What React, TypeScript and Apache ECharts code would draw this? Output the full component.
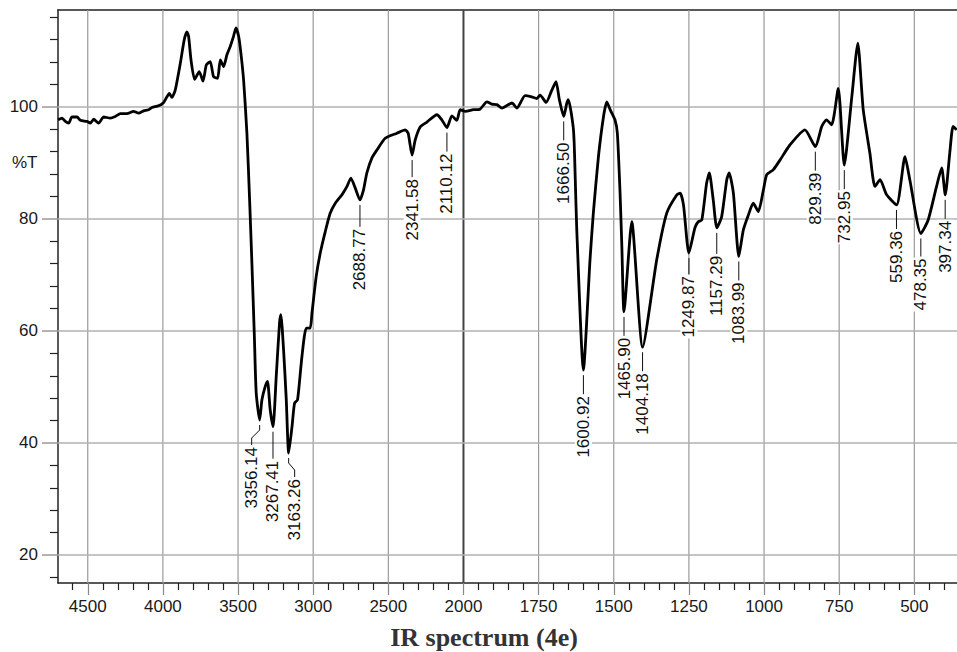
import React, { useEffect, useRef } from "react";
import * as echarts from "echarts";

// ---- spectrum (wavenumber cm-1, %T) ----
const wavenumbers = [
  4698, 4671, 4649, 4627, 4605, 4571, 4549, 4505, 4483, 4461, 4428, 4394, 4350, 4317, 4283, 4239,
  4195, 4162, 4128, 4095, 4073, 4029, 3995, 3973, 3957, 3940, 3918, 3884, 3858, 3840, 3829, 3813,
  3789, 3758, 3733, 3711, 3685, 3663, 3636, 3618, 3596, 3574, 3552, 3530, 3514, 3496, 3481, 3463,
  3441, 3423, 3407, 3392, 3379, 3356, 3341, 3319, 3304, 3286, 3267, 3246, 3224, 3215, 3197, 3179,
  3163, 3141, 3124, 3104, 3075, 3046, 3020, 3008, 2980, 2953, 2920, 2887, 2853, 2809, 2775, 2749,
  2720, 2689, 2665, 2643, 2609, 2576, 2521, 2443, 2388, 2368, 2342, 2321, 2288, 2243, 2177, 2144,
  2110, 2077, 2044, 2022, 1994, 1967, 1945, 1922, 1906, 1889, 1872, 1839, 1822, 1795, 1773, 1756,
  1745, 1725, 1706, 1692, 1681, 1666.5, 1656, 1651, 1634, 1628, 1623, 1601, 1579, 1568, 1551, 1534,
  1523, 1512, 1496, 1488, 1479, 1473, 1466, 1440, 1404, 1357, 1324, 1290, 1279, 1268, 1250, 1230,
  1219, 1207, 1191, 1182, 1169, 1157, 1141, 1124, 1116, 1102, 1084, 1069, 1052, 1036, 1019, 1002,
  991, 969, 947, 914, 864, 829, 808, 792, 775, 753, 733, 708, 688, 670, 648, 631,
  614, 592, 559, 531, 515, 478, 454, 426, 409, 397, 382, 371, 359,
];
const transmittance = [
  97.7, 98.0, 97.4, 97.1, 98.2, 98.2, 97.6, 97.4, 97.1, 97.8, 97.1, 98.2, 98.0, 98.3, 98.8, 98.8,
  99.2, 98.9, 99.3, 99.5, 99.9, 100.2, 100.8, 101.8, 102.4, 101.7, 103.0, 107.8, 112.0, 113.4, 112.6, 108.4,
  104.9, 106.3, 104.6, 107.5, 108.1, 105.4, 105.1, 108.4, 107.2, 109.3, 110.8, 112.6, 114.1, 112.6, 109.6, 104.8,
  95.3, 83.4, 71.5, 59.6, 48.9, 44.1, 47.7, 50.1, 51.0, 45.9, 42.9, 51.8, 61.4, 62.9, 56.6, 47.7,
  38.2, 42.9, 47.1, 47.7, 55.4, 60.5, 60.5, 63.2, 69.7, 73.9, 77.7, 81.0, 82.8, 84.3, 85.8, 87.3,
  85.5, 83.4, 85.2, 88.2, 90.9, 92.3, 94.4, 95.3, 95.9, 95.3, 91.4, 94.1, 96.4, 97.3, 98.6, 97.7,
  96.3, 98.4, 97.6, 99.5, 99.2, 99.5, 99.6, 100.9, 100.5, 100.4, 99.8, 100.7, 99.8, 102.0, 101.8, 101.5,
  102.1, 100.8, 103.0, 104.5, 101.3, 98.3, 100.7, 101.3, 95.9, 87.0, 78.0, 53.0, 72.7, 81.0, 91.1, 98.3,
  100.9, 99.5, 97.7, 95.3, 84.6, 75.0, 63.4, 79.5, 57.1, 72.7, 81.0, 84.3, 84.6, 82.5, 73.9, 78.4,
  79.5, 79.8, 86.4, 88.2, 83.4, 78.4, 80.4, 87.0, 88.2, 84.6, 73.3, 78.0, 80.7, 82.8, 81.3, 85.2,
  87.9, 88.8, 90.5, 93.2, 95.9, 92.9, 96.5, 97.7, 96.8, 103.3, 89.6, 101.8, 111.4, 99.5, 91.8, 85.8,
  87.0, 84.3, 82.5, 91.1, 87.0, 77.4, 79.8, 85.8, 89.1, 84.3, 91.8, 96.5, 95.9,
];

// ---- labelled peaks ----
const peakWavenumbers = [
  3356.14, 3267.41, 3163.26, 2688.77, 2341.58, 2110.12, 1666.5, 1600.92, 1465.9,
  1404.18, 1249.87, 1157.29, 1083.99, 829.39, 732.95, 559.36, 478.35, 397.34,
];
const peakT = [
  44.1, 42.9, 38.2, 83.4, 91.4, 96.3, 98.3, 53.0, 63.4,
  57.1, 73.9, 78.4, 73.3, 92.9, 89.6, 82.5, 77.4, 84.3,
];

// ---- ticks ----
const xMajorTicks = [4500, 4000, 3500, 3000, 2500, 2000, 1750, 1500, 1250, 1000, 750, 500];
const yMajorTicks = [20, 40, 60, 80, 100];

// label layout (pixels below trough, horizontal shift)
const labelGap = [26, 33, 25, 28, 23, 25, 25, 25, 25, 25, 22, 27, 25, 25, 25, 25, 24, 25];
const labelShift = [-8, 0, 6, 0, 0, 0, 0, 0, 0, 0, 0, 0, 0, 0, 0, 0, 0, 0];

// axis break: region above 2000 cm-1 compressed by factor 2
const toAxis = (w: number) => (w <= 2000 ? w : 2000 + (w - 2000) / 2);
const fromAxis = (v: number) => (v <= 2000 ? v : 2000 + (v - 2000) * 2);

const X_MIN = 358;
const X_MAX = 3349;
const Y_MIN = 15;
const Y_MAX = 117.3;

const FONT = "'Liberation Sans', Arial, Helvetica, sans-serif";

function buildMinorX(): number[] {
  const out: number[] = [];
  for (let w = 4600; w > 2000; w -= 100) if (w % 500 !== 0) out.push(toAxis(w));
  for (let w = 1950; w >= 400; w -= 50) if (w % 250 !== 0) out.push(toAxis(w));
  return out;
}
function buildMinorY(): number[] {
  const out: number[] = [];
  for (let t = 16; t <= 116; t += 4) if (t % 20 !== 0) out.push(t);
  return out;
}

export default function App() {
  const ref = useRef<HTMLDivElement>(null);

  useEffect(() => {
    document.body.style.margin = "0";
    if (!ref.current) return;
    const chart = echarts.init(ref.current, null, { renderer: "svg" });

    const grid = { left: 58, right: 0, top: 10, bottom: 69 };
    const majorX = xMajorTicks.map(toAxis);

    const option: any = {
      animation: false,
      backgroundColor: "#ffffff",
      grid: [grid, { ...grid }],
      xAxis: [
        {
          type: "value",
          gridIndex: 0,
          min: X_MIN,
          max: X_MAX,
          inverse: true,
          position: "bottom",
          axisLine: { show: true, lineStyle: { color: "#222", width: 1.5 } },
          axisTick: {
            show: true,
            length: 12,
            customValues: majorX,
            lineStyle: { color: "#888", width: 1.2 },
          },
          axisLabel: {
            show: true,
            customValues: majorX,
            formatter: (v: number) => String(Math.round(fromAxis(v))),
            fontSize: 17,
            fontFamily: FONT,
            color: "#1a1a1a",
            margin: 15,
          },
          splitLine: { show: false },
        },
        {
          type: "value",
          gridIndex: 0,
          min: X_MIN,
          max: X_MAX,
          inverse: true,
          position: "top",
          axisLine: { show: true, lineStyle: { color: "#222", width: 1.5 } },
          axisTick: { show: false },
          axisLabel: { show: false },
          splitLine: { show: false },
        },
        {
          type: "value",
          gridIndex: 1,
          min: X_MIN,
          max: X_MAX,
          inverse: true,
          position: "bottom",
          axisLine: { show: false },
          axisTick: {
            show: true,
            length: 7,
            customValues: buildMinorX(),
            lineStyle: { color: "#222", width: 1.2 },
          },
          axisLabel: { show: false },
          splitLine: { show: false },
        },
      ],
      yAxis: [
        {
          type: "value",
          gridIndex: 0,
          min: Y_MIN,
          max: Y_MAX,
          position: "left",
          axisLine: { show: true, lineStyle: { color: "#222", width: 1.5 } },
          axisTick: {
            show: true,
            length: 16,
            customValues: yMajorTicks,
            lineStyle: { color: "#999", width: 1.5 },
          },
          axisLabel: {
            show: true,
            customValues: yMajorTicks,
            fontSize: 17,
            fontFamily: FONT,
            color: "#1a1a1a",
            margin: 20,
          },
          splitLine: { show: false },
        },
        {
          type: "value",
          gridIndex: 1,
          min: Y_MIN,
          max: Y_MAX,
          position: "left",
          axisLine: { show: false },
          axisTick: {
            show: true,
            length: 8,
            customValues: buildMinorY(),
            lineStyle: { color: "#222", width: 1.2 },
          },
          axisLabel: { show: false },
          splitLine: { show: false },
        },
      ],
      series: [
        {
          name: "vgrid",
          type: "custom",
          xAxisIndex: 0,
          yAxisIndex: 0,
          silent: true,
          z: 1,
          data: majorX.map((v) => [v, 50]),
          renderItem: (params: any, api: any) => {
            const v = api.value(0);
            const x = api.coord([v, 50])[0];
            const cs = params.coordSys;
            const isBreak = Math.abs(v - 2000) < 1e-6;
            return {
              type: "line",
              shape: { x1: x, y1: cs.y, x2: x, y2: cs.y + cs.height },
              style: { stroke: isBreak ? "#444" : "#9a9a9a", lineWidth: isBreak ? 2 : 1.2 },
            };
          },
        },
        {
          name: "hgrid",
          type: "custom",
          xAxisIndex: 0,
          yAxisIndex: 0,
          silent: true,
          z: 1,
          data: yMajorTicks.map((t) => [1000, t]),
          renderItem: (params: any, api: any) => {
            const y = api.coord([1000, api.value(1)])[1];
            const cs = params.coordSys;
            return {
              type: "line",
              shape: { x1: cs.x, y1: y, x2: cs.x + cs.width, y2: y },
              style: { stroke: "#b0b0b0", lineWidth: 1.5 },
            };
          },
        },
        {
          name: "spectrum",
          type: "line",
          xAxisIndex: 0,
          yAxisIndex: 0,
          z: 3,
          showSymbol: false,
          symbol: "none",
          smooth: 0.2,
          clip: true,
          data: wavenumbers.map((w, i) => [toAxis(w), transmittance[i]]),
          lineStyle: { color: "#000", width: 2.8 },
        },
        {
          name: "peaks",
          type: "custom",
          xAxisIndex: 0,
          yAxisIndex: 0,
          silent: true,
          z: 4,
          data: peakWavenumbers.map((w, i) => [toAxis(w), peakT[i]]),
          renderItem: (params: any, api: any) => {
            const i = params.dataIndex;
            const p = api.coord([api.value(0), api.value(1)]);
            const gap = labelGap[i];
            const dx = labelShift[i];
            const top = p[1] + gap;
            const pts =
              dx !== 0
                ? [
                    [p[0], p[1] + 5],
                    [p[0], p[1] + 10],
                    [p[0] + dx, p[1] + gap - 8],
                    [p[0] + dx, top - 1],
                  ]
                : [
                    [p[0], p[1] + 5],
                    [p[0], top - 1],
                  ];
            return {
              type: "group",
              children: [
                {
                  type: "polyline",
                  shape: { points: pts },
                  style: { stroke: "#111", lineWidth: 1, fill: "none" },
                },
                {
                  type: "text",
                  x: p[0] + dx,
                  y: top,
                  rotation: Math.PI / 2,
                  style: {
                    text: peakWavenumbers[i].toFixed(2),
                    x: 0,
                    y: 0,
                    align: "right",
                    verticalAlign: "middle",
                    font: `17px ${FONT}`,
                    fill: "#111",
                    backgroundColor: "#ffffff",
                    padding: [0, 1],
                  },
                },
              ],
            };
          },
        },
      ],
      graphic: [
        {
          type: "text",
          left: 12,
          top: 154,
          style: { text: "%T", font: `17px ${FONT}`, fill: "#1a1a1a" },
        },
        {
          type: "text",
          x: 484,
          y: 637,
          style: {
            text: "IR spectrum (4e)",
            font: `bold 26px 'Liberation Serif', 'DejaVu Serif', serif`,
            fill: "#333",
            align: "center",
            verticalAlign: "middle",
          },
        },
      ],
    };

    chart.setOption(option);
    return () => chart.dispose();
  }, []);

  return <div ref={ref} style={{ width: 957, height: 652 }} />;
}
